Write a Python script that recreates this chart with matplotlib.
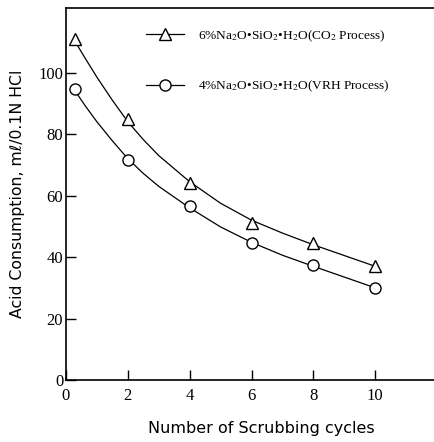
import numpy as np
import matplotlib
matplotlib.use("Agg")
import matplotlib.pyplot as plt
from matplotlib.lines import Line2D

plt.rcParams['mathtext.fontset'] = 'stix'

# measured points
cycles = [0.3, 2, 4, 6, 8, 10]
co2_process = [111, 85, 64, 51, 44.5, 37]
vrh_process = [94.5, 71.5, 56.5, 44.5, 37.5, 30]

# smooth curves
curve_x = [0.3, 0.6, 1, 1.5, 2, 2.5, 3, 4, 5, 6, 7, 8, 9, 10]
co2_curve = [110, 105, 98.5, 91, 84, 78.2, 73, 64.5, 57.5, 52, 47.8, 44, 40.5, 37]
vrh_curve = [94, 89.5, 84, 77.8, 72, 67.2, 63, 56, 49.8, 44.8, 40.6, 37, 33.5, 30]

xticks = [0, 2, 4, 6, 8, 10]
yticks = [0, 20, 40, 60, 80, 100]

labels = [r'6%Na$_2$O•SiO$_2$•H$_2$O(CO$_2$ Process)',
          r'4%Na$_2$O•SiO$_2$•H$_2$O(VRH Process)']

fig = plt.figure(figsize=(4.34, 4.42), dpi=100)
ax = fig.add_axes([0.152, 0.140, 0.848, 0.842])

ax.plot(curve_x, co2_curve, color='k', lw=0.9)
ax.plot(curve_x, vrh_curve, color='k', lw=0.9)
ax.plot(cycles, co2_process, ls='none', marker='^', ms=8.5, mfc='w', mec='k', mew=1)
ax.plot(cycles, vrh_process, ls='none', marker='o', ms=8, mfc='w', mec='k', mew=1)

ax.set_xlim(0, 11.9)
ax.set_ylim(0, 121)
ax.set_xticks(xticks)
ax.set_yticks(yticks)
ax.tick_params(direction='in', length=7, width=1, labelsize=12)
ax.tick_params(axis='x', pad=6)
ax.tick_params(axis='y', pad=2)
for lab in ax.get_xticklabels() + ax.get_yticklabels():
    lab.set_family('Liberation Serif')
ax.spines['right'].set_visible(False)
for s in ['left', 'bottom', 'top']:
    ax.spines[s].set_linewidth(1.2)

ax.set_xlabel('Number of Scrubbing cycles', fontsize=11.5, family='DejaVu Sans')
ax.xaxis.set_label_coords(0.53, -0.11)
ax.set_ylabel('Acid Consumption, mℓ/0.1N HCl', fontsize=11.3, family='DejaVu Sans')
ax.yaxis.set_label_coords(-0.11, 0.5)

handles = [Line2D([], [], color='k', lw=0.9, marker='^', ms=8, mfc='w', mec='k'),
           Line2D([], [], color='k', lw=0.9, marker='o', ms=8, mfc='w', mec='k')]
ax.legend(handles, labels, loc='upper left', bbox_to_anchor=(0.2, 0.963), frameon=False,
          prop={'family': 'Liberation Serif', 'size': 9.6}, handlelength=2.8,
          handletextpad=1.1, labelspacing=2.6, borderpad=0)

fig.savefig('out.png', dpi=100)
